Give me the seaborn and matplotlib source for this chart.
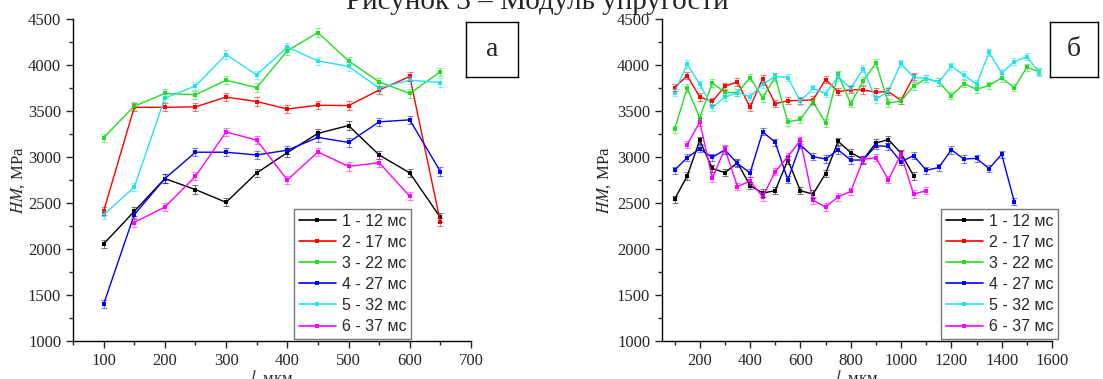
import numpy as np
import pandas as pd
import matplotlib
matplotlib.use("Agg")
import matplotlib.pyplot as plt
import seaborn as sns
from matplotlib.lines import Line2D
from matplotlib.ticker import MultipleLocator

nan = np.nan

labels = ['1 - 12 мс', '2 - 17 мс', '3 - 22 мс', '4 - 27 мс', '5 - 32 мс', '6 - 37 мс']
colors = ['#000000', '#ff0000', '#22dd22', '#0000ff', '#22e4ee', '#ff00ff']

# panel a
l_a = [100, 150, 200, 250, 300, 350, 400, 450, 500, 550, 600, 650]
hm_a1 = [2055, 2409, 2765, 2646, 2507, 2827, 3048, 3257, 3342, 3022, 2827, 2343]
hm_a2 = [2410, 3540, 3540, 3545, 3651, 3603, 3522, 3563, 3559, 3728, 3875, 2292]
hm_a3 = [3210, 3552, 3691, 3676, 3835, 3754, 4154, 4353, 4044, 3816, 3691, 3926]
hm_a4 = [1401, 2372, 2765, 3052, 3052, 3022, 3074, 3213, 3158, 3382, 3404, 2842]
hm_a5 = [2372, 2672, 3640, 3772, 4114, 3893, 4195, 4044, 3985, 3750, 3835, 3809]
hm_a6 = [nan, 2288, 2456, 2790, 3272, 3184, 2750, 3055, 2897, 2938, 2573, nan]
err_a = 45

# panel b
l_b = [100, 150, 200, 250, 300, 350, 400, 450, 500, 550, 600, 650, 700, 750, 800,
       850, 900, 950, 1000, 1050, 1100, 1150, 1200, 1250, 1300, 1350, 1400, 1450, 1500, 1550]
hm_b1 = [2541, 2793, 3181, 2875, 2830, 2937, 2689, 2608, 2634, 2967, 2634, 2597, 2819, 3170, 3048,
         2974, 3152, 3189, 3041, 2795, nan, nan, nan, nan, nan, nan, nan, nan, nan, nan]
hm_b2 = [3755, 3883, 3652, 3604, 3769, 3817, 3542, 3853, 3580, 3612, 3615, 3620, 3842, 3710, 3733,
         3728, 3705, 3711, 3614, 3875, nan, nan, nan, nan, nan, nan, nan, nan, nan, nan]
hm_b3 = [3300, 3749, 3428, 3805, 3702, 3700, 3863, 3643, 3870, 3382, 3408, 3600, 3371, 3900, 3580,
         3828, 4020, 3586, 3611, 3770, 3852, 3815, 3667, 3797, 3734, 3778, 3860, 3752, 3974, 3926]
hm_b4 = [2856, 2993, 3089, 2996, 3078, 2930, 2826, 3274, 3159, 2752, 3133, 3004, 2978, 3078, 2967,
         2967, 3122, 3115, 2948, 3015, 2856, 2886, 3078, 2978, 2985, 2874, 3030, 2515, nan, nan]
hm_b5 = [3700, 4011, 3790, 3540, 3650, 3700, 3655, 3790, 3875, 3864, 3608, 3745, 3688, 3870, 3748,
         3960, 3625, 3718, 4017, 3866, 3852, 3815, 3985, 3890, 3792, 4137, 3912, 4035, 4090, 3918]
hm_b6 = [nan, 3133, 3381, 2771, 3089, 2678, 2740, 2567, 2840, 3004, 3181, 2530, 2456, 2567, 2626,
         2974, 2993, 2752, 3030, 2597, 2634, nan, nan, nan, nan, nan, nan, nan, nan, nan]
err_b = 40

sns.set_style('ticks')
plt.rcParams['font.family'] = ['Liberation Serif', 'DejaVu Serif']
plt.rcParams['mathtext.fontset'] = 'stix'

W, H = 1103, 379
fig = plt.figure(figsize=(W / 100, H / 100), dpi=100)


def px(x0, y_top, x1, y_bot):
    return [x0 / W, 1 - y_bot / H, (x1 - x0) / W, (y_bot - y_top) / H]


def draw_panel(ax, l, series, err, xlim, xmajor, leg_pos):
    df = pd.DataFrame({'l': np.tile(l, len(series)),
                       'hm': np.concatenate(series),
                       'series': np.repeat(labels, len(l))}).dropna()
    sns.lineplot(data=df, x='l', y='hm', hue='series', palette=colors, estimator=None,
                 marker='s', markersize=3.5, markeredgewidth=0, linewidth=1,
                 legend=False, sort=False, ax=ax)
    for s, c in zip(series, colors):
        ax.errorbar(l, s, yerr=err, fmt='none', ecolor=c, alpha=0.5,
                    elinewidth=0.8, capsize=2.5, capthick=0.8)
    ax.set_xlim(*xlim)
    ax.set_ylim(1000, 4500)
    ax.xaxis.set_major_locator(MultipleLocator(xmajor))
    ax.xaxis.set_minor_locator(MultipleLocator(xmajor / 2))
    ax.yaxis.set_major_locator(MultipleLocator(500))
    ax.yaxis.set_minor_locator(MultipleLocator(250))
    ax.tick_params(which='major', direction='out', length=5, width=1, labelsize=12)
    ax.tick_params(which='minor', direction='out', length=3, width=1)
    for side in ['top', 'right']:
        ax.spines[side].set_visible(False)
    for side in ['left', 'bottom']:
        ax.spines[side].set_linewidth(1)
        ax.spines[side].set_color('black')
    ax.set_xlabel('$l$, мкм', fontsize=12)
    ax.set_ylabel('$\\it{HM}$, MPa', fontsize=12)
    handles = [Line2D([0], [0], color=c, marker='s', markersize=3.5, markeredgewidth=0, lw=1.2)
               for c in colors]
    leg = ax.legend(handles, labels, loc='upper left', bbox_to_anchor=leg_pos,
                    bbox_transform=fig.transFigure, borderaxespad=0, frameon=True,
                    fancybox=False, edgecolor='#555555', handlelength=2.3,
                    labelspacing=0.38, borderpad=0.3, handletextpad=0.4,
                    prop={'family': 'Liberation Sans', 'size': 11.5})
    leg.get_frame().set_linewidth(1)


ax_a = fig.add_axes(px(73, 19, 471, 341))
draw_panel(ax_a, l_a, [hm_a1, hm_a2, hm_a3, hm_a4, hm_a5, hm_a6], err_a,
           (50, 700), 100, (294 / W, 1 - 209 / H))
ax_a.yaxis.set_label_coords(-0.115, 0.5)
ax_a.xaxis.set_label_coords(0.5, -0.085)

ax_b = fig.add_axes(px(662, 19, 1052, 341))
draw_panel(ax_b, l_b, [hm_b1, hm_b2, hm_b3, hm_b4, hm_b5, hm_b6], err_b,
           (50, 1600), 200, (941 / W, 1 - 209 / H))
ax_b.yaxis.set_label_coords(-0.125, 0.5)
ax_b.xaxis.set_label_coords(0.5, -0.085)

# boxed panel letters
for box, letter in [((466, 22, 518, 77), 'а'), ((1050, 22, 1098, 77), 'б')]:
    bx = fig.add_axes(px(*box))
    bx.set_xticks([])
    bx.set_yticks([])
    for sp in bx.spines.values():
        sp.set_linewidth(1)
        sp.set_color('black')
    bx.text(0.5, 0.5, letter, ha='center', va='center', fontsize=20, transform=bx.transAxes)

fig.text(537 / W, 1 - 9 / H, 'Рисунок 3 – Модуль упругости', ha='center', va='baseline',
         fontsize=21)

fig.savefig('out.png', dpi=100)
